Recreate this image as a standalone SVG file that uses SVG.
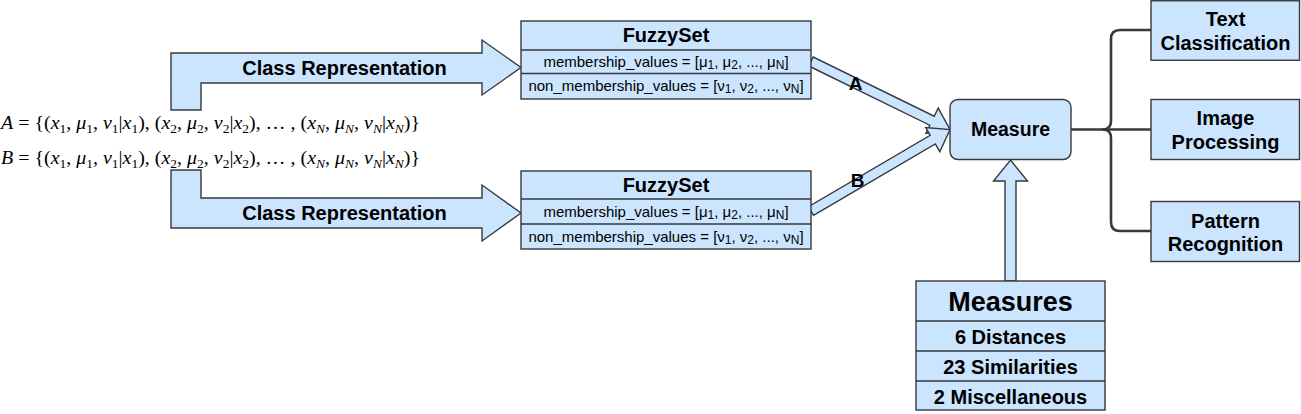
<svg xmlns="http://www.w3.org/2000/svg" width="1301" height="414" viewBox="0 0 1301 414">
<style>
.shape{fill:#cce5ff;stroke:#36393d;stroke-width:1.4}
.div{stroke:#36393d;stroke-width:1.4;fill:none}
.line{fill:none;stroke:#36393d;stroke-width:2.6;stroke-linejoin:round}
.b20{font-family:"Liberation Sans",Arial,Helvetica,sans-serif;font-weight:bold;font-size:20px;fill:#000;text-anchor:middle}
.r15{font-family:"Liberation Sans",Arial,Helvetica,sans-serif;font-size:15px;fill:#000;text-anchor:middle}
.math{font-family:"Liberation Serif","Times New Roman",serif;font-size:18.5px;fill:#000}
.it{font-style:italic}
.sub{font-size:12px}
.msub{font-size:12.5px}
</style>
<rect width="1301" height="414" fill="#ffffff"/>

<g id="formulas">
<text class="math" x="1" y="129" textLength="419" lengthAdjust="spacingAndGlyphs"><tspan class="it">A</tspan> = {(<tspan class="it">x</tspan><tspan class="msub" dy="4">1</tspan><tspan dy="-4">, </tspan><tspan class="it">μ</tspan><tspan class="msub" dy="4">1</tspan><tspan dy="-4">, </tspan><tspan class="it">ν</tspan><tspan class="msub" dy="4">1</tspan><tspan dy="-4">|</tspan><tspan class="it">x</tspan><tspan class="msub" dy="4">1</tspan><tspan dy="-4">), (</tspan><tspan class="it">x</tspan><tspan class="msub" dy="4">2</tspan><tspan dy="-4">, </tspan><tspan class="it">μ</tspan><tspan class="msub" dy="4">2</tspan><tspan dy="-4">, </tspan><tspan class="it">ν</tspan><tspan class="msub" dy="4">2</tspan><tspan dy="-4">|</tspan><tspan class="it">x</tspan><tspan class="msub" dy="4">2</tspan><tspan dy="-4">), … , (</tspan><tspan class="it">x</tspan><tspan class="msub it" dy="4">N</tspan><tspan dy="-4">, </tspan><tspan class="it">μ</tspan><tspan class="msub it" dy="4">N</tspan><tspan dy="-4">, </tspan><tspan class="it">ν</tspan><tspan class="msub it" dy="4">N</tspan><tspan dy="-4">|</tspan><tspan class="it">x</tspan><tspan class="msub it" dy="4">N</tspan><tspan dy="-4">)}</tspan></text>
<text class="math" x="1" y="164" textLength="419" lengthAdjust="spacingAndGlyphs"><tspan class="it">B</tspan> = {(<tspan class="it">x</tspan><tspan class="msub" dy="4">1</tspan><tspan dy="-4">, </tspan><tspan class="it">μ</tspan><tspan class="msub" dy="4">1</tspan><tspan dy="-4">, </tspan><tspan class="it">ν</tspan><tspan class="msub" dy="4">1</tspan><tspan dy="-4">|</tspan><tspan class="it">x</tspan><tspan class="msub" dy="4">1</tspan><tspan dy="-4">), (</tspan><tspan class="it">x</tspan><tspan class="msub" dy="4">2</tspan><tspan dy="-4">, </tspan><tspan class="it">μ</tspan><tspan class="msub" dy="4">2</tspan><tspan dy="-4">, </tspan><tspan class="it">ν</tspan><tspan class="msub" dy="4">2</tspan><tspan dy="-4">|</tspan><tspan class="it">x</tspan><tspan class="msub" dy="4">2</tspan><tspan dy="-4">), … , (</tspan><tspan class="it">x</tspan><tspan class="msub it" dy="4">N</tspan><tspan dy="-4">, </tspan><tspan class="it">μ</tspan><tspan class="msub it" dy="4">N</tspan><tspan dy="-4">, </tspan><tspan class="it">ν</tspan><tspan class="msub it" dy="4">N</tspan><tspan dy="-4">|</tspan><tspan class="it">x</tspan><tspan class="msub it" dy="4">N</tspan><tspan dy="-4">)}</tspan></text>
</g>

<g id="connectors">
<g id="class-rep-top">
<path class="shape" d="M171,110 L171,53 L482,53 L482,40 L521,67.5 L482,95 L482,83 L201,83 L201,110 Z"/>
<text class="b20" x="344.5" y="74.5">Class Representation</text>
</g>
<g id="class-rep-bottom">
<path class="shape" d="M171,170 L201,170 L201,198 L482,198 L482,185 L521,213 L482,241 L482,228 L171,228 Z"/>
<text class="b20" x="344.5" y="219.5">Class Representation</text>
</g>
<g id="arrow-A">
<path class="shape" d="M808.8,66 L929.8,125.2 L925.9,133.3 L950,129.5 L938.2,108.1 L934.2,116.2 L813.2,57 Z"/>
<text class="b20" style="font-size:19px" x="855.5" y="90">A</text>
</g>
<g id="arrow-B">
<path class="shape" d="M813.5,215.3 L935.3,143.9 L939.8,151.7 L950,129.5 L925.7,127.5 L930.2,135.3 L808.5,206.7 Z"/>
<text class="b20" style="font-size:19px" x="857.5" y="186.5">B</text>
</g>
<path id="arrow-up" class="shape" d="M1005,281 L1005,181 L993.5,181 L1010.5,160 L1027.5,181 L1016,181 L1016,281 Z"/>
<path id="brace" class="line" d="M1151,30 L1120,30 Q1111,30 1111,39 L1111,121 Q1111,129.5 1103,129.5 Q1111,129.5 1111,138 L1111,222 Q1111,231 1120,231 L1151,231"/>
<path id="brace-mid" class="line" d="M1071,129.5 L1151,129.5"/>
</g>

<g id="fuzzyset-a">
<rect class="shape" x="521" y="21" width="290" height="78"/>
<line class="div" x1="521" y1="50" x2="811" y2="50"/>
<line class="div" x1="521" y1="73.5" x2="811" y2="73.5"/>
<text class="b20" x="666" y="41.5">FuzzySet</text>
<text class="r15" x="666" y="66.5">membership_values = [μ<tspan class="sub" dy="2">1</tspan><tspan dy="-2">, μ</tspan><tspan class="sub" dy="2">2</tspan><tspan dy="-2">, ..., μ</tspan><tspan class="sub" dy="2">N</tspan><tspan dy="-2">]</tspan></text>
<text class="r15" x="666" y="91">non_membership_values = [ν<tspan class="sub" dy="2">1</tspan><tspan dy="-2">, ν</tspan><tspan class="sub" dy="2">2</tspan><tspan dy="-2">, ..., ν</tspan><tspan class="sub" dy="2">N</tspan><tspan dy="-2">]</tspan></text>
</g>

<g id="fuzzyset-b">
<rect class="shape" x="521" y="171" width="290" height="78"/>
<line class="div" x1="521" y1="199" x2="811" y2="199"/>
<line class="div" x1="521" y1="224" x2="811" y2="224"/>
<text class="b20" x="666" y="192">FuzzySet</text>
<text class="r15" x="666" y="216.5">membership_values = [μ<tspan class="sub" dy="2">1</tspan><tspan dy="-2">, μ</tspan><tspan class="sub" dy="2">2</tspan><tspan dy="-2">, ..., μ</tspan><tspan class="sub" dy="2">N</tspan><tspan dy="-2">]</tspan></text>
<text class="r15" x="666" y="241.5">non_membership_values = [ν<tspan class="sub" dy="2">1</tspan><tspan dy="-2">, ν</tspan><tspan class="sub" dy="2">2</tspan><tspan dy="-2">, ..., ν</tspan><tspan class="sub" dy="2">N</tspan><tspan dy="-2">]</tspan></text>
</g>

<g id="measure">
<rect class="shape" x="950" y="99.5" width="121" height="60" rx="8" ry="8"/>
<text class="b20" style="font-size:19.5px" x="1010.5" y="136">Measure</text>
</g>

<g id="measures">
<rect class="shape" x="916" y="281" width="189" height="129"/>
<line class="div" x1="916" y1="321" x2="1105" y2="321"/>
<line class="div" x1="916" y1="351" x2="1105" y2="351"/>
<line class="div" x1="916" y1="381" x2="1105" y2="381"/>
<text class="b20" style="font-size:27px" x="1010.5" y="311">Measures</text>
<text class="b20" x="1010.5" y="344">6 Distances</text>
<text class="b20" x="1010.5" y="374">23 Similarities</text>
<text class="b20" x="1010.5" y="403.5">2 Miscellaneous</text>
</g>

<g id="text-classification">
<rect class="shape" x="1151" y="0.75" width="148.5" height="59.5"/>
<text class="b20" x="1225.5" y="26">Text</text>
<text class="b20" x="1225.5" y="50">Classification</text>
</g>

<g id="image-processing">
<rect class="shape" x="1151" y="99.5" width="148.5" height="60"/>
<text class="b20" x="1225.5" y="125">Image</text>
<text class="b20" x="1225.5" y="148.5">Processing</text>
</g>

<g id="pattern-recognition">
<rect class="shape" x="1151" y="201.5" width="148.5" height="60"/>
<text class="b20" x="1225.5" y="227.5">Pattern</text>
<text class="b20" x="1225.5" y="251">Recognition</text>
</g>
</svg>
